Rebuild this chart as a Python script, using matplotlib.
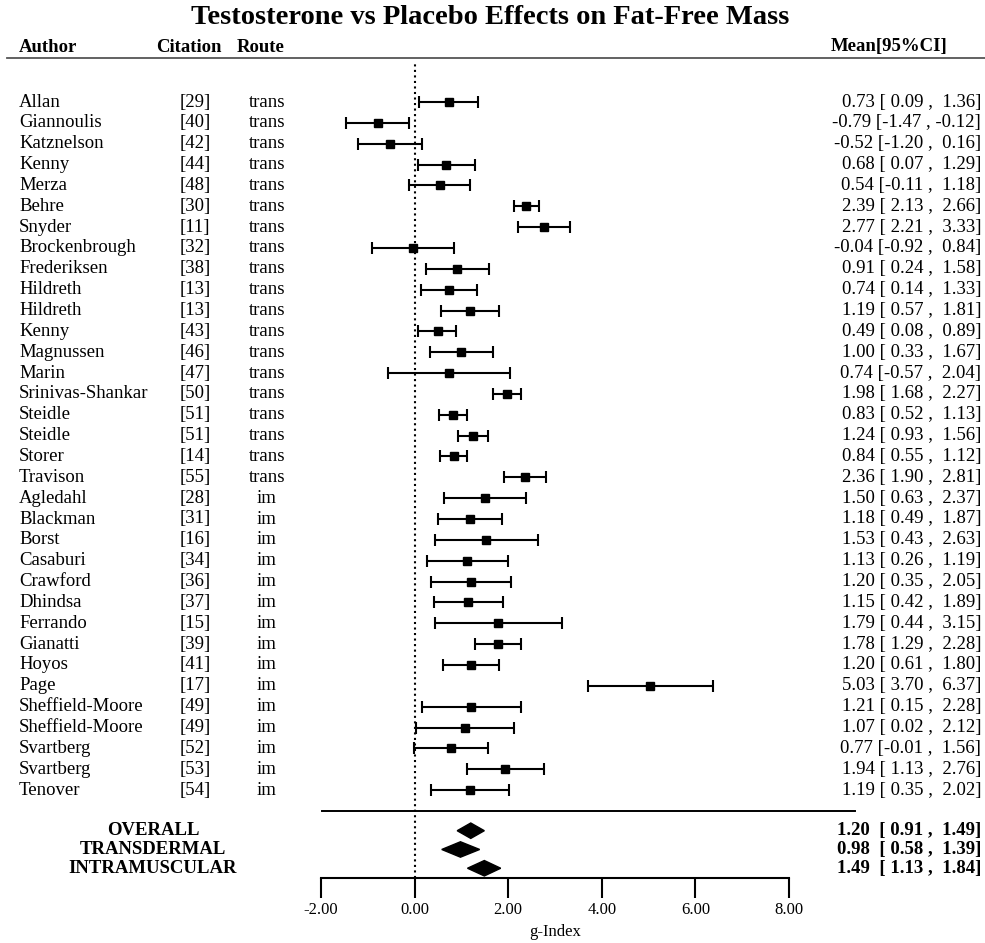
import numpy as np
import matplotlib
matplotlib.use('Agg')
import matplotlib.pyplot as plt
import matplotlib.transforms as mtransforms
from matplotlib.lines import Line2D

# Times-like font
tnr = 'Liberation Serif'
plt.rcParams['font.family'] = tnr

# Study data
authors = ['Allan', 'Giannoulis', 'Katznelson', 'Kenny', 'Merza', 'Behre', 'Snyder',
           'Brockenbrough', 'Frederiksen', 'Hildreth', 'Hildreth', 'Kenny', 'Magnussen',
           'Marin', 'Srinivas-Shankar', 'Steidle', 'Steidle', 'Storer', 'Travison',
           'Agledahl', 'Blackman', 'Borst', 'Casaburi', 'Crawford', 'Dhindsa', 'Ferrando',
           'Gianatti', 'Hoyos', 'Page', 'Sheffield-Moore', 'Sheffield-Moore', 'Svartberg',
           'Svartberg', 'Tenover']
citations = [29, 40, 42, 44, 48, 30, 11, 32, 38, 13, 13, 43, 46, 47, 50, 51, 51, 14, 55,
             28, 31, 16, 34, 36, 37, 15, 39, 41, 17, 49, 49, 52, 53, 54]
routes = ['trans'] * 19 + ['im'] * 15
means = [0.73, -0.79, -0.52, 0.68, 0.54, 2.39, 2.77, -0.04, 0.91, 0.74, 1.19, 0.49, 1.00,
         0.74, 1.98, 0.83, 1.24, 0.84, 2.36, 1.50, 1.18, 1.53, 1.13, 1.20, 1.15, 1.79,
         1.78, 1.20, 5.03, 1.21, 1.07, 0.77, 1.94, 1.19]
lower = [0.09, -1.47, -1.20, 0.07, -0.11, 2.13, 2.21, -0.92, 0.24, 0.14, 0.57, 0.08, 0.33,
         -0.57, 1.68, 0.52, 0.93, 0.55, 1.90, 0.63, 0.49, 0.43, 0.26, 0.35, 0.42, 0.44,
         1.29, 0.61, 3.70, 0.15, 0.02, -0.01, 1.13, 0.35]
upper = [1.36, -0.12, 0.16, 1.29, 1.18, 2.66, 3.33, 0.84, 1.58, 1.33, 1.81, 0.89, 1.67,
         2.04, 2.27, 1.13, 1.56, 1.12, 2.81, 2.37, 1.87, 2.63, 1.19, 2.05, 1.89, 3.15,
         2.28, 1.80, 6.37, 2.28, 2.12, 1.56, 2.76, 2.02]
# the Casaburi bar is drawn out to about 1.99 although its label says 1.19
upper_drawn = list(upper)
upper_drawn[22] = 1.99

# Summary estimates
sum_labels = ['OVERALL', 'TRANSDERMAL', 'INTRAMUSCULAR']
sum_means = [1.20, 0.98, 1.49]
sum_lower = [0.91, 0.58, 1.13]
sum_upper = [1.49, 1.39, 1.84]

W, H = 985, 943
fig = plt.figure(figsize=(W / 100, H / 100), dpi=100)

# forest axes: x from -2 (px 321) to 8 (px 789), bottom spine at px 878
ax = fig.add_axes([321 / W, 1 - 878 / H, 468 / W, (878 - 62) / H])
ax.set_xlim(-2, 8)
row_px = 20.85
ax.set_ylim((878 - 102) / row_px, (62 - 102) / row_px)

n = len(authors)
rows = np.arange(n)
err = np.array([np.array(means) - np.array(lower), np.array(upper_drawn) - np.array(means)])
ax.errorbar(means, rows, xerr=err, fmt='s', color='k', ms=6, capsize=4.5,
            elinewidth=1.5, capthick=1.5, clip_on=False)

# summary diamonds
sum_rows = [34.95, 35.85, 36.75]
for m, lo, hi, r in zip(sum_means, sum_lower, sum_upper, sum_rows):
    ax.fill([lo, m, hi, m], [r, r - 0.37, r, r + 0.37], color='k', clip_on=False)

ax.axvline(0, color='k', ls=':', lw=1.5)
ax.plot([-1.98, 9.42], [34.0, 34.0], color='k', lw=1.4, clip_on=False)

for s in ['top', 'right', 'left']:
    ax.spines[s].set_visible(False)
ax.spines['bottom'].set_linewidth(1.5)
ax.set_yticks([])
ax.set_xticks(np.arange(-2, 9, 2))
ax.set_xticklabels(['%.2f' % v for v in np.arange(-2, 9, 2)], fontsize=12)
ax.tick_params(axis='x', direction='out', length=14.4, width=1.5, pad=3)
ax.set_xlabel('g-Index', fontsize=12, labelpad=4)

# text columns: x in figure pixels, y in data rows
tr = mtransforms.blended_transform_factory(fig.transFigure, ax.transData)
fx = lambda px: px / W
fs = 13.5
for i in range(n):
    ax.text(fx(19), i, authors[i], transform=tr, fontsize=fs, va='center', ha='left')
    ax.text(fx(195), i, '[%d]' % citations[i], transform=tr, fontsize=fs, va='center', ha='center')
    ax.text(fx(267), i, routes[i], transform=tr, fontsize=fs, va='center', ha='center')
    ax.text(fx(981), i, '%.2f [%5.2f , %5.2f]' % (means[i], lower[i], upper[i]),
            transform=tr, fontsize=fs, va='center', ha='right')

for lab, m, lo, hi, r in zip(sum_labels, sum_means, sum_lower, sum_upper, sum_rows):
    ax.text(fx(153), r, lab, transform=tr, fontsize=fs, fontweight='bold', va='center', ha='center')
    ax.text(fx(981), r, '%.2f  [%5.2f , %5.2f]' % (m, lo, hi), transform=tr, fontsize=fs,
            fontweight='bold', va='center', ha='right')

# headers and title
hy = 1 - 47 / H
fig.text(fx(19), hy, 'Author', fontsize=fs, fontweight='bold', va='center', ha='left')
fig.text(fx(189), hy, 'Citation', fontsize=fs, fontweight='bold', va='center', ha='center')
fig.text(fx(261), hy, 'Route', fontsize=fs, fontweight='bold', va='center', ha='center')
fig.text(fx(947), hy, 'Mean[95%CI]', fontsize=fs, fontweight='bold', va='center', ha='right')
fig.add_artist(Line2D([fx(7), 1.0], [1 - 58 / H, 1 - 58 / H], color='#555555', lw=1.3))

fig.text(fx(490), 1 - 18 / H, 'Testosterone vs Placebo Effects on Fat-Free Mass',
         fontsize=20.5, fontweight='bold', va='center', ha='center')

fig.savefig('out.png', dpi=100)
